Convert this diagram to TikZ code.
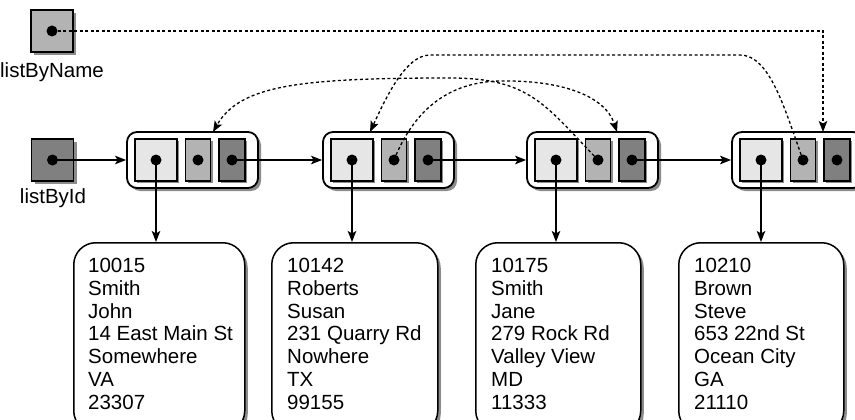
\documentclass[tikz,border=0pt]{standalone}
\usepackage{fontspec}
\setmainfont{Liberation Sans}
\usetikzlibrary{arrows.meta,shadows,calc}
\definecolor{cellA}{HTML}{E6E6E6}
\definecolor{cellB}{HTML}{B3B3B3}
\definecolor{cellC}{HTML}{808080}
\definecolor{shade}{HTML}{8C8C8C}
\begin{document}
\begin{tikzpicture}[x=1pt,y=-1pt,
  every node/.style={font=\fontsize{20.5}{22.8}\selectfont},
  shd/.style={drop shadow={shadow xshift=3pt,shadow yshift=-3pt,fill=shade,opacity=1}},
  shdsm/.style={drop shadow={shadow xshift=2pt,shadow yshift=-2pt,fill=shade,opacity=1}},
  recbox/.style={draw,line width=1.8pt,fill=white,rounded corners=10pt,minimum width=131pt,minimum height=56pt,inner sep=0pt,shd},
  cellbox/.style={draw,line width=1.6pt,inner sep=0pt,minimum height=42pt,shdsm},
  ptr/.style={circle,fill=black,inner sep=0pt,minimum size=11pt},
  headbox/.style={draw,line width=1.6pt,inner sep=0pt,minimum size=42pt,shd},
  databox/.style={draw,line width=1.5pt,fill=white,rounded corners=22pt,inner sep=0pt,minimum height=190pt,anchor=north west,shd},
  datatext/.style={align=left,inner sep=0pt,anchor=north west},
  arr/.style={-{Stealth[length=11pt,width=8.5pt,inset=2.5pt]},line width=1.3pt},
  dotline/.style={arr,dash pattern=on 3pt off 2.5pt}
]
\useasboundingbox (0,0) rectangle (855,420);
\clip (0,0) rectangle (855,420);

% head pointers
\node[headbox,fill=cellB] (byname) at (52,31) {};
\node[ptr] (bynamep) at (byname.center) {};
\node (bynamel) at (52,72) {listByName};
\node[headbox,fill=cellC] (byid) at (52.5,160) {};
\node[ptr] (byidp) at (byid.center) {};
\node (byidl) at (53,198) {listById};

% records
\foreach \i/\L in {1/127,2/323,3/527,4/732}{
  \node[recbox] (rec\i) at (\L+65.5,160) {};
  \node[cellbox,fill=cellA,minimum width=42pt] (c\i a) at (\L+29,160) {};
  \node[cellbox,fill=cellB,minimum width=25pt] (c\i b) at (\L+71,160) {};
  \node[cellbox,fill=cellC,minimum width=26pt] (c\i c) at (\L+105,160) {};
  \node[ptr] (r\i a) at (c\i a.center) {};
  \node[ptr] (r\i b) at (c\i b.center) {};
  \node[ptr] (r\i c) at (c\i c.center) {};
}

% data boxes
\node[databox,minimum width=171pt] (d1) at (73,242) {};
\node[databox,minimum width=166pt] (d2) at (271,242) {};
\node[databox,minimum width=165pt] (d3) at (475,242) {};
\node[databox,minimum width=165pt] (d4) at (678,242) {};
\node[datatext] (t1) at ($(d1.north west)+(15,16)$) {10015\\Smith\\John\\14 East Main St\\Somewhere\\VA\\23307};
\node[datatext] (t2) at ($(d2.north west)+(16,16)$) {10142\\Roberts\\Susan\\231 Quarry Rd\\Nowhere\\TX\\99155};
\node[datatext] (t3) at ($(d3.north west)+(16,16)$) {10175\\Smith\\Jane\\279 Rock Rd\\Valley View\\MD\\11333};
\node[datatext] (t4) at ($(d4.north west)+(16,16)$) {10210\\Brown\\Steve\\653 22nd St\\Ocean City\\GA\\21110};

% solid connectors
\draw[arr] (byidp.center) -- (byidp.center -| rec1.west);
\draw[arr] (r1c.center) -- (r1c.center -| rec2.west);
\draw[arr] (r2c.center) -- (r2c.center -| rec3.west);
\draw[arr] (r3c.center) -- (r3c.center -| rec4.west);
\foreach \i in {1,2,3,4}{
  \draw[arr] (r\i a.center) -- (r\i a.center |- d\i.north);
}

% dotted (by name) connectors
\coordinate (nmturn) at (823,31);
\coordinate (nmend) at (823,132);
\coordinate (a2end) at (370,132);
\coordinate (b3end) at (617,132);
\coordinate (c1end) at (213,132);
\draw[dotline] (bynamep.center) -- (nmturn) -- (nmend);
\draw[dotline] (r4b.center) .. controls (785,110) and (770,55) .. (740,55) -- (430,55) .. controls (405,55) and (385,100) .. (a2end);
\draw[dotline] (r2b.center) .. controls (410,120) and (440,82) .. (500,81) .. controls (560,80) and (605,95) .. (b3end);
\draw[dotline] (r3b.center) .. controls (545,105) and (530,78) .. (450,78) .. controls (300,78) and (240,85) .. (c1end);
\end{tikzpicture}
\end{document}
